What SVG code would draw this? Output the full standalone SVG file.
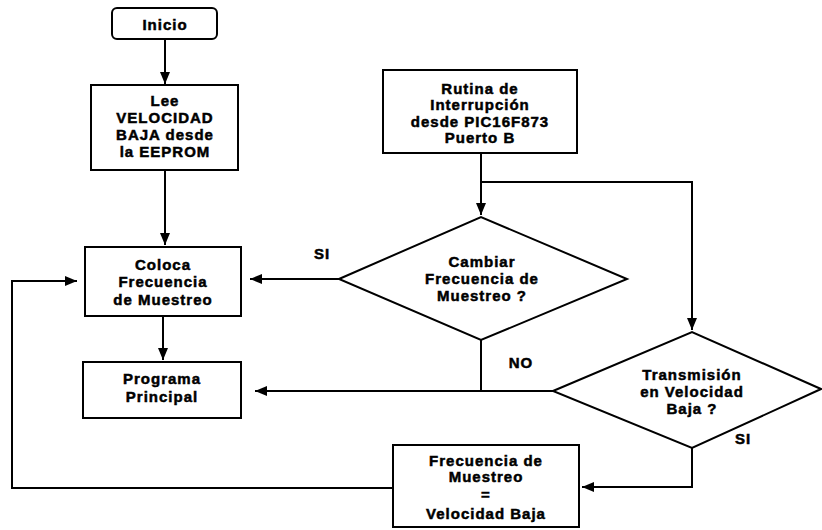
<svg xmlns="http://www.w3.org/2000/svg" width="822" height="530" viewBox="0 0 822 530">
  <style>
    .box { fill: #ffffff; stroke: #000; stroke-width: 2; }
    .line { fill: none; stroke: #000; stroke-width: 2; }
    text { font-family: "Liberation Sans", Arial, sans-serif; font-weight: bold; font-size: 15px; fill: #000; stroke: #000; stroke-width: 0.5; text-anchor: middle; letter-spacing: 1px; }
  </style>
  <defs>
    <marker id="arrow" viewBox="0 0 12 10" refX="12" refY="5" markerWidth="12" markerHeight="10" markerUnits="userSpaceOnUse" orient="auto">
      <path d="M0,0 L12,5 L0,10 Z" fill="#000"/>
    </marker>
  </defs>
  <rect width="822" height="530" fill="#ffffff"/>

  <g id="connectors">
    <line class="line" x1="165" y1="39" x2="165" y2="84" marker-end="url(#arrow)"/>
    <line class="line" x1="165" y1="170" x2="165" y2="245" marker-end="url(#arrow)"/>
    <line class="line" x1="163" y1="316" x2="163" y2="360" marker-end="url(#arrow)"/>
    <line class="line" x1="481" y1="153" x2="481" y2="215" marker-end="url(#arrow)"/>
    <polyline class="line" points="481,182 692,182 692,330" marker-end="url(#arrow)"/>
    <line class="line" x1="339" y1="279" x2="250" y2="279" marker-end="url(#arrow)"/>
    <line class="line" x1="481" y1="340" x2="481" y2="391"/>
    <line class="line" x1="553" y1="391" x2="255" y2="391" marker-end="url(#arrow)"/>
    <polyline class="line" points="692,448 692,487 582,487" marker-end="url(#arrow)"/>
    <polyline class="line" points="393,488 12,488 12,281 77,281" marker-end="url(#arrow)"/>
    <text x="322" y="259">SI</text>
    <text x="521" y="368">NO</text>
    <text x="743" y="444">SI</text>
  </g>

  <g id="inicio">
    <rect class="box" x="112" y="8" width="105" height="31" rx="5"/>
    <text x="165" y="30">Inicio</text>
  </g>

  <g id="lee">
    <rect class="box" x="91" y="85" width="147" height="85"/>
    <text x="165" y="106">Lee</text>
    <text x="165" y="123">VELOCIDAD</text>
    <text x="165" y="140">BAJA desde</text>
    <text x="165" y="157">la EEPROM</text>
  </g>

  <g id="rutina">
    <rect class="box" x="383" y="70" width="194" height="83"/>
    <text x="480" y="94">Rutina de</text>
    <text x="480" y="110">Interrupción</text>
    <text x="480" y="127">desde PIC16F873</text>
    <text x="480" y="143">Puerto B</text>
  </g>

  <g id="coloca">
    <rect class="box" x="85" y="247" width="156" height="69"/>
    <text x="163" y="270">Coloca</text>
    <text x="163" y="287">Frecuencia</text>
    <text x="163" y="305">de Muestreo</text>
  </g>

  <g id="programa">
    <rect class="box" x="83" y="362" width="158" height="56"/>
    <text x="162" y="384">Programa</text>
    <text x="162" y="402">Principal</text>
  </g>

  <g id="cambiar">
    <polygon class="box" points="339,279 481,217 627,279 481,340"/>
    <text x="482" y="267">Cambiar</text>
    <text x="482" y="284">Frecuencia de</text>
    <text x="482" y="301">Muestreo ?</text>
  </g>

  <g id="transmision">
    <polygon class="box" points="553,391 692,332 821,389 692,448"/>
    <text x="692" y="380">Transmisión</text>
    <text x="692" y="397">en Velocidad</text>
    <text x="692" y="414">Baja ?</text>
  </g>

  <g id="frecuencia">
    <rect class="box" x="393" y="445" width="186" height="82"/>
    <text x="486" y="466">Frecuencia de</text>
    <text x="486" y="482">Muestreo</text>
    <text x="486" y="500">=</text>
    <text x="486" y="519">Velocidad Baja</text>
  </g>
</svg>
